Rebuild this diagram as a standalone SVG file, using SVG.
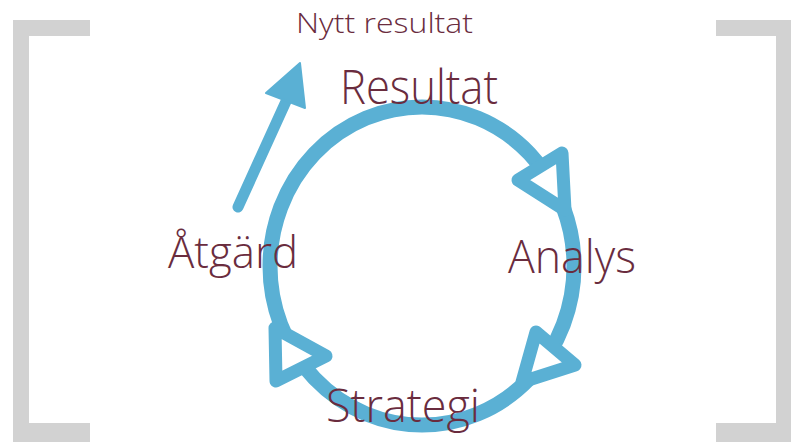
<svg xmlns="http://www.w3.org/2000/svg" width="791" height="442" viewBox="0 0 791 442">
<style>
.br{fill:#d2d2d2}
.lbl{font-family:"Open Sans","Liberation Sans",sans-serif;font-weight:350;fill:#6a2c3e}
.ring{fill:none;stroke:#5ab0d4;stroke-width:15}
.tri{fill:#ffffff;stroke:#5ab0d4;stroke-width:13;stroke-linejoin:round}
</style>
<rect width="791" height="442" fill="#ffffff"/>
<g id="brackets">
<rect class="br" x="13" y="20" width="16" height="422"/>
<rect class="br" x="13" y="20" width="77" height="16"/>
<rect class="br" x="13" y="423" width="77" height="19"/>
<rect class="br" x="776" y="20" width="15" height="422"/>
<rect class="br" x="716" y="20" width="75" height="16"/>
<rect class="br" x="716" y="423" width="75" height="19"/>
</g>
<g id="connectors">
<ellipse class="ring" cx="422" cy="266" rx="152" ry="159"/>
<polygon class="tri" points="562,153 518,180 565,210"/>
<polygon class="tri" points="536,332 575,365 522,382"/>
<polygon class="tri" points="275,328 326,356 276,381"/>
<line x1="238" y1="207" x2="288" y2="97" stroke="#5ab0d4" stroke-width="11" stroke-linecap="round"/>
<polygon points="300,63 266,93 305,108" fill="#5ab0d4" stroke="#5ab0d4" stroke-width="2" stroke-linejoin="round"/>
</g>
<g id="node-nytt-resultat"><text class="lbl" x="296" y="33" font-size="27" textLength="177" lengthAdjust="spacingAndGlyphs">Nytt resultat</text></g>
<g id="node-resultat"><text class="lbl" x="340" y="104" font-size="48" textLength="158" lengthAdjust="spacingAndGlyphs">Resultat</text></g>
<g id="node-analys"><text class="lbl" x="508" y="273" font-size="46" textLength="128" lengthAdjust="spacingAndGlyphs">Analys</text></g>
<g id="node-atgard"><text class="lbl" x="168" y="268" font-size="44" textLength="130" lengthAdjust="spacingAndGlyphs">Åtgärd</text></g>
<g id="node-strategi"><text class="lbl" x="326" y="422" font-size="46" textLength="154" lengthAdjust="spacingAndGlyphs">Strategi</text></g>
</svg>
